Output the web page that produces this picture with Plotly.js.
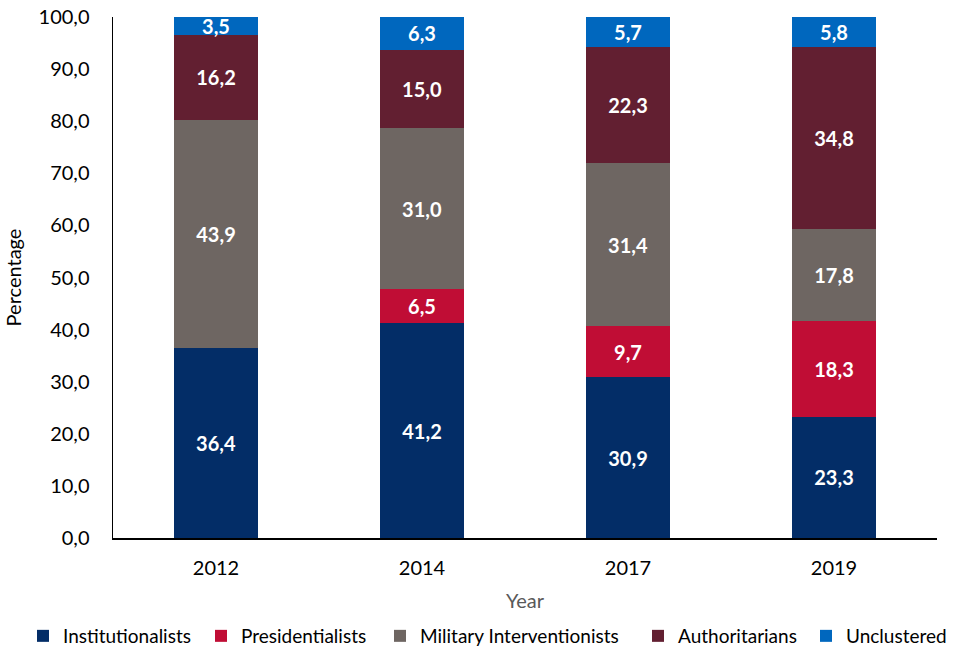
<!DOCTYPE html>
<html><head><meta charset="utf-8">
<script src="https://cdn.plot.ly/plotly-3.0.1.min.js"></script>
<style>body{margin:0;background:#fff}#chart{width:961px;height:650px}</style>
</head><body><div id="chart"></div>
<script>
const years = ['2012', '2014', '2017', '2019'];
const institutionalists = [36.4, 41.2, 30.9, 23.3];
const presidentialists = [null, 6.5, 9.7, 18.3];
const military = [43.9, 31.0, 31.4, 17.8];
const authoritarians = [16.2, 15.0, 22.3, 34.8];
const unclustered = [3.5, 6.3, 5.7, 5.8];
const seriesNames = ['Institutionalists', 'Presidentialists', 'Military Interventionists', 'Authoritarians', 'Unclustered'];
const seriesColors = ['#032D67', '#C00D35', '#6E6662', '#621F31', '#0067BE'];
const seriesValues = [institutionalists, presidentialists, military, authoritarians, unclustered];
// legend item left edges (px) in the 961px-wide page
const legendLeft = [23, 201, 380, 638, 806];

const font = 'Lato, "Open Sans", sans-serif';
const W = 961, H = 650;
const legendIds = ['legend', 'legend2', 'legend3', 'legend4', 'legend5'];
const traces = seriesValues.map((vals, i) => ({
  type: 'bar', x: years, y: vals, name: seriesNames[i], legend: legendIds[i],
  marker: {color: seriesColors[i], line: {width: 0}},
  texttemplate: '%{y:.1f}', textposition: 'inside', insidetextanchor: 'middle',
  textfont: {color: '#ffffff', size: 20, family: font, weight: 'bold'},
  constraintext: 'none', hoverinfo: 'skip'
}));

const layout = {
  barmode: 'stack', bargap: 0.59,
  separators: ',.',
  paper_bgcolor: '#fff', plot_bgcolor: '#fff',
  font: {family: font, size: 20, color: '#000'},
  margin: {l: 113, r: 24, t: 17, b: 112, autoexpand: false},
  showlegend: true,
  xaxis: {type: 'category', showline: true, linecolor: '#000', linewidth: 1.5,
          ticks: '', showgrid: false, ticklabelstandoff: 11,
          title: {text: 'Year', font: {size: 20, color: '#595959'}, standoff: 16},
          tickfont: {size: 20, color: '#000'}},
  yaxis: {range: [0, 100], dtick: 10, tickformat: '.1f', showline: true, linecolor: '#000',
          linewidth: 1.5, ticks: '', showgrid: false, zeroline: false, ticklabelstandoff: 18,
          title: {text: 'Percentage', font: {size: 20, color: '#000'}, standoff: 11},
          tickfont: {size: 20, color: '#000'}}
};
legendIds.forEach((id, i) => {
  layout[id] = {orientation: 'h', xref: 'container', yref: 'container',
    x: legendLeft[i] / W, xanchor: 'left', y: (H - 636) / H, yanchor: 'middle',
    itemwidth: 30, font: {size: 19, color: '#000'}, bgcolor: 'rgba(0,0,0,0)'};
});
Plotly.newPlot('chart', traces, layout, {displayModeBar: false, staticPlot: true});
</script></body></html>
